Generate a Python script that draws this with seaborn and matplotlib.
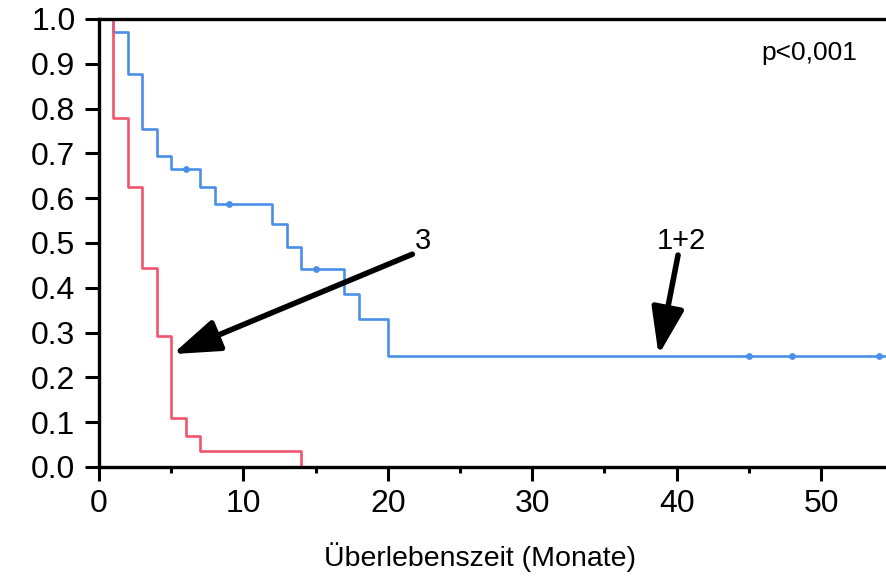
import matplotlib
matplotlib.use("Agg")
import matplotlib.pyplot as plt
import seaborn as sns
import pandas as pd
import numpy as np

# Data
group12_time = [0, 1, 2, 3, 4, 5, 7, 8, 12, 13, 14, 17, 18, 20, 54.5]
group12_surv = [1.0, 0.972, 0.877, 0.754, 0.694, 0.665, 0.626, 0.587, 0.542, 0.492, 0.443, 0.386, 0.330, 0.248, 0.248]
group12_cens_time = [6, 9, 15, 45, 48, 54]
group12_cens_surv = [0.665, 0.587, 0.443, 0.248, 0.248, 0.248]

group3_time = [0, 1, 2, 3, 4, 5, 6, 7, 14, 14.2]
group3_surv = [1.0, 0.778, 0.626, 0.444, 0.292, 0.109, 0.070, 0.036, 0.0, 0.0]

x_ticks = [0, 10, 20, 30, 40, 50]
y_ticks = [0.0, 0.1, 0.2, 0.3, 0.4, 0.5, 0.6, 0.7, 0.8, 0.9, 1.0]
x_label = "Überlebenszeit (Monate)"
p_text = "p<0,001"

BLUE = "#4A90E8"
RED = "#F0546E"

sns.set_style("white")
plt.rcParams['font.family'] = ['Liberation Sans', 'DejaVu Sans']
plt.rcParams['text.color'] = 'black'
plt.rcParams['xtick.color'] = 'black'
plt.rcParams['ytick.color'] = 'black'
plt.rcParams['axes.labelcolor'] = 'black'

df = pd.concat([
    pd.DataFrame({"t": group12_time, "s": group12_surv, "g": "1+2"}),
    pd.DataFrame({"t": group3_time, "s": group3_surv, "g": "3"}),
])
cens = pd.DataFrame({"t": group12_cens_time, "s": group12_cens_surv})

fig = plt.figure(figsize=(8.86, 5.76), dpi=100)
ax = fig.add_axes([99/886, 1 - 467/576, 1 - 99/886, (467 - 19)/576])

sns.lineplot(data=df, x="t", y="s", hue="g", palette={"1+2": BLUE, "3": RED},
             drawstyle="steps-post", estimator=None, linewidth=1.9, legend=False,
             ax=ax)
sns.scatterplot(data=cens, x="t", y="s", color=BLUE, marker="o", s=24,
                edgecolor=BLUE, linewidth=0, ax=ax, zorder=3, legend=False)

ax.set_xlim(0, 54.5)
ax.set_ylim(0, 1.0)
ax.set_xticks(x_ticks)
ax.set_xticks([5, 15, 25, 35, 45], minor=True)
ax.set_yticks(y_ticks)
ax.set_yticklabels([f"{v:.1f}" for v in y_ticks])
ax.tick_params(axis="both", which="major", labelsize=23, length=10, width=2.2,
               direction="out", color="black", labelcolor="black", bottom=True, left=True)
ax.tick_params(axis="x", which="minor", length=4, width=2.2, bottom=True, direction="out")
ax.tick_params(axis="x", which="major", pad=6)
ax.tick_params(axis="y", pad=7)

for side in ["left", "bottom", "top"]:
    ax.spines[side].set_visible(True)
    ax.spines[side].set_color("black")
    ax.spines[side].set_linewidth(2.4)
ax.spines["right"].set_visible(False)

ax.set_xlabel(x_label, fontsize=20.5, color="black")
ax.xaxis.set_label_coords((480 - 99) / (886 - 99), -(557 - 467) / (467 - 19))
ax.xaxis.label.set_va("center")
ax.set_ylabel("")

ax.text(52.5, 0.925, p_text, fontsize=19, ha="right", va="center", color="black")

arrow_style = dict(arrowstyle="-|>,head_length=1.3,head_width=0.45",
                   color="black", lw=4, mutation_scale=22, shrinkA=0, shrinkB=0)
ax.annotate("", xy=(5.1, 0.252), xytext=(21.7, 0.475), arrowprops=arrow_style)
ax.text(21.9, 0.505, "3", fontsize=21, ha="left", va="center", color="black")
ax.annotate("", xy=(38.75, 0.25), xytext=(40.1, 0.473), arrowprops=arrow_style)
ax.text(40.3, 0.505, "1+2", fontsize=21, ha="center", va="center", color="black")

fig.savefig("out.png", dpi=100)
